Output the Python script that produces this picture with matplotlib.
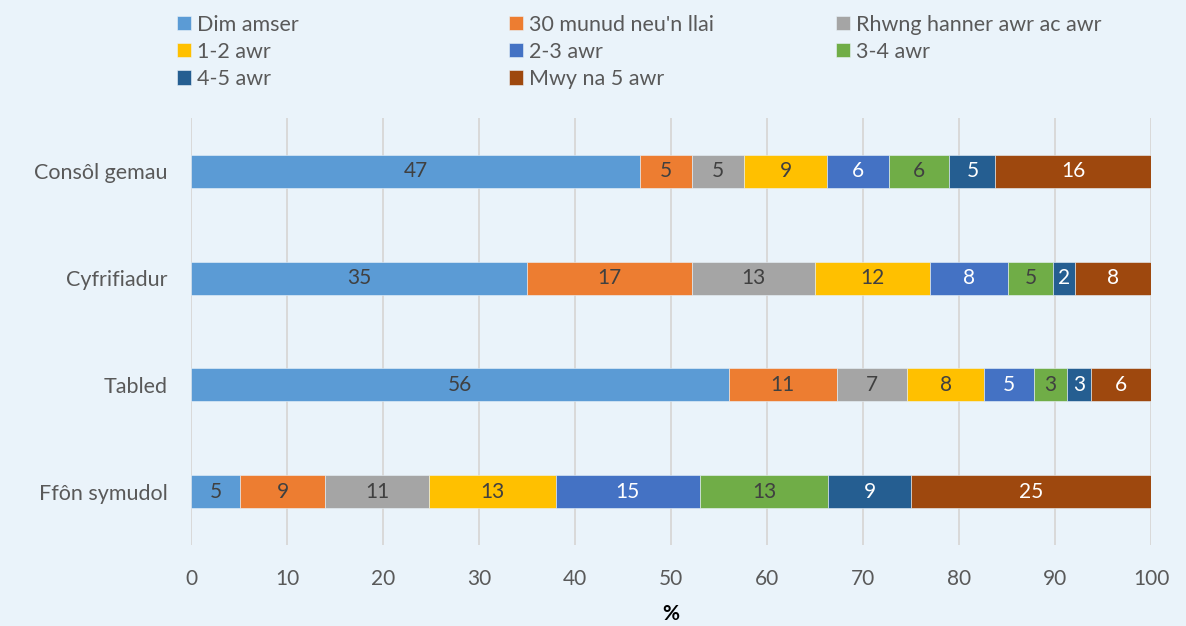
import matplotlib.pyplot as plt
import numpy as np

plt.rcParams['font.family'] = ['Lato', 'DejaVu Sans']

devices = ['Ffôn symudol', 'Tabled', 'Cyfrifiadur', 'Consôl gemau']
series_names = ['Dim amser', "30 munud neu'n llai", 'Rhwng hanner awr ac awr',
                '1-2 awr', '2-3 awr', '3-4 awr', '4-5 awr', 'Mwy na 5 awr']
colors = ['#5B9BD5', '#ED7D31', '#A5A5A5', '#FFC000',
          '#4472C4', '#70AD47', '#255E91', '#9E480E']

# measured segment widths (%), one list per device, same order as devices
ffon = [5.1, 8.9, 10.8, 13.2, 15.0, 13.4, 8.6, 25.0]
tabled = [56.0, 11.3, 7.3, 8.0, 5.2, 3.5, 2.5, 6.2]
cyfrifiadur = [35.0, 17.2, 12.8, 12.0, 8.1, 4.7, 2.3, 7.9]
consol = [46.8, 5.4, 5.4, 8.7, 6.4, 6.3, 4.8, 16.2]

# printed labels
ffon_lbl = [5, 9, 11, 13, 15, 13, 9, 25]
tabled_lbl = [56, 11, 7, 8, 5, 3, 3, 6]
cyfrifiadur_lbl = [35, 17, 13, 12, 8, 5, 2, 8]
consol_lbl = [47, 5, 5, 9, 6, 6, 5, 16]

x_ticks = [0, 10, 20, 30, 40, 50, 60, 70, 80, 90, 100]

values = np.array([ffon, tabled, cyfrifiadur, consol])
labels = np.array([ffon_lbl, tabled_lbl, cyfrifiadur_lbl, consol_lbl])
bg = '#EAF3FA'
white_text = {4, 6, 7}

fig = plt.figure(figsize=(11.86, 6.26), dpi=100, facecolor=bg)
ax = fig.add_axes([0.161, 0.1294, 0.8095, 0.6821], facecolor=bg)

y = np.arange(len(devices))
left = np.zeros(len(devices))
handles = []
for j, name in enumerate(series_names):
    bars = ax.barh(y, values[:, j], left=left, height=0.31, color=colors[j],
                   edgecolor=bg, linewidth=0.4, label=name, zorder=3)
    handles.append(bars)
    txt_color = 'white' if j in white_text else '#404040'
    for i in range(len(devices)):
        ax.text(left[i] + values[i, j] / 2, y[i], str(labels[i, j]),
                ha='center', va='center', fontsize=15, color=txt_color, zorder=4)
    left += values[:, j]

ax.set_xlim(0, 100)
ax.set_ylim(-0.5, 3.5)
ax.set_xticks(x_ticks)
ax.set_yticks(y)
ax.set_yticklabels(devices)
ax.tick_params(axis='both', length=0, labelsize=15, labelcolor='#595959')
ax.tick_params(axis='y', labelsize=15.5, pad=17)
ax.tick_params(axis='x', pad=17)
ax.grid(axis='x', color='#D9D9D9', linewidth=1.4, zorder=0)
ax.set_axisbelow(True)
for s in ax.spines.values():
    s.set_visible(False)
ax.set_xlabel('%', fontsize=15, fontweight='bold', color='black', labelpad=11)

# legend laid out in three columns, filled row by row
cols = [[0, 3, 6], [1, 4, 7], [2, 5]]
col_x = [0.142, 0.422, 0.698]
for cx, idx in zip(col_x, cols):
    fig.legend([handles[k] for k in idx], [series_names[k] for k in idx],
               loc='upper left', bbox_to_anchor=(cx, 0.99), frameon=False,
               fontsize=15.5, labelcolor='#595959', handlelength=0.63,
               handleheight=0.63, handletextpad=0.3, labelspacing=0.33,
               borderaxespad=0)

fig.savefig('out.png', dpi=100, facecolor=bg)
